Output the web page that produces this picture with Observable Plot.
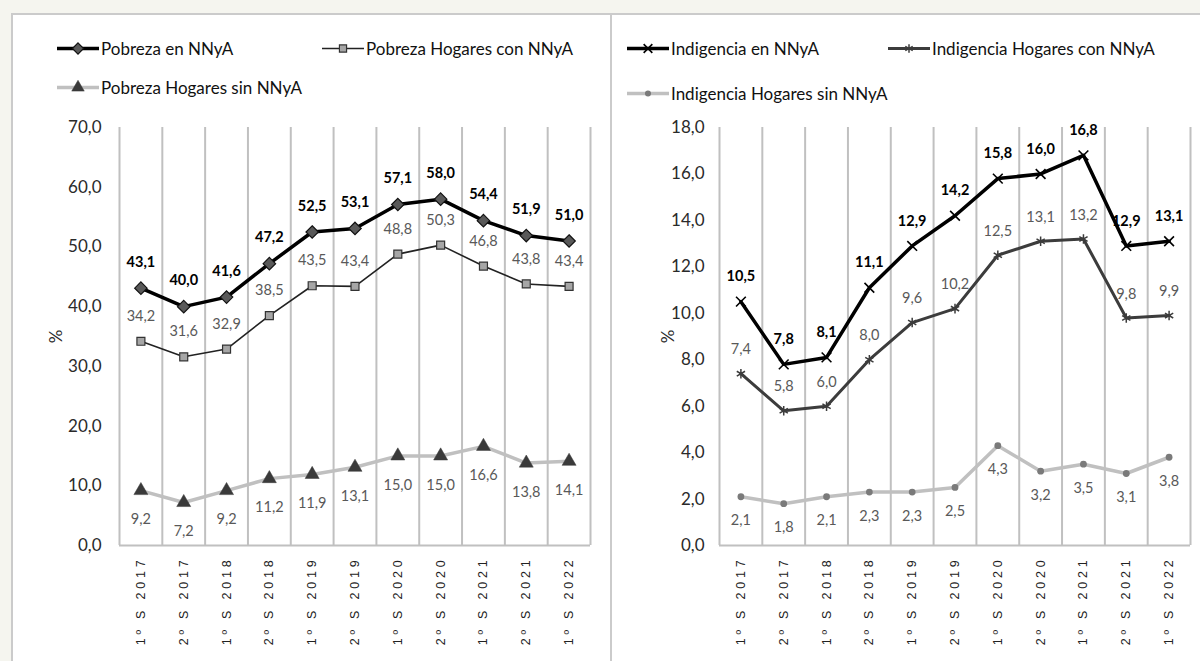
<!DOCTYPE html>
<html>
<head>
<meta charset="utf-8">
<script src="https://cdn.jsdelivr.net/npm/d3@7"></script>
<script src="https://cdn.jsdelivr.net/npm/@observablehq/plot@0.6"></script>
<style>
  body { margin: 0; width: 1200px; height: 661px; background: #f5f5ef; position: relative; overflow: hidden; font-family: Lato, sans-serif; }
  #frame { position: absolute; left: 11px; top: 13px; width: 1200px; height: 660px; background: #fff; border-left: 2px solid #cbcbcb; border-top: 2px solid #cbcbcb; }
  #divider { position: absolute; left: 610px; top: 13px; width: 2px; height: 660px; background: #cbcbcb; }
  .panel { position: absolute; top: 110px; }
  .legend-item { position: absolute; display: flex; align-items: center; font-size: 17px; color: #111; white-space: nowrap; transform: translateY(-50%); }
  .legend-item svg { display: block; margin-right: 1px; }
  .panel svg g[aria-label^="x-axis"] text { font-family: "Liberation Sans", Arial, sans-serif; font-size: 12.5px; letter-spacing: 3.8px; fill: #222; }
</style>
</head>
<body>
<div id="frame"></div>
<div id="divider"></div>
<div id="left" class="panel" style="left:0px"></div>
<div id="right" class="panel" style="left:611px"></div>
<script>
// ---- Data ----
const categories = ["1º S 2017","2º S 2017","1º S 2018","2º S 2018","1º S 2019","2º S 2019","1º S 2020","2º S 2020","1º S 2021","2º S 2021","1º S 2022"];

const pobrezaNNyA        = [43.1, 40.0, 41.6, 47.2, 52.5, 53.1, 57.1, 58.0, 54.4, 51.9, 51.0];
const pobrezaHogaresCon  = [34.2, 31.6, 32.9, 38.5, 43.5, 43.4, 48.8, 50.3, 46.8, 43.8, 43.4];
const pobrezaHogaresSin  = [9.2, 7.2, 9.2, 11.2, 11.9, 13.1, 15.0, 15.0, 16.6, 13.8, 14.1];

const indigenciaNNyA       = [10.5, 7.8, 8.1, 11.1, 12.9, 14.2, 15.8, 16.0, 16.8, 12.9, 13.1];
const indigenciaHogaresCon = [7.4, 5.8, 6.0, 8.0, 9.6, 10.2, 12.5, 13.1, 13.2, 9.8, 9.9];
const indigenciaHogaresSin = [2.1, 1.8, 2.1, 2.3, 2.3, 2.5, 4.3, 3.2, 3.5, 3.1, 3.8];

const pobrezaTicks    = [0, 10, 20, 30, 40, 50, 60, 70];
const indigenciaTicks = [0, 2, 4, 6, 8, 10, 12, 14, 16, 18];

const seriesNames = {
  pobrezaNNyA: "Pobreza en NNyA",
  pobrezaHogaresCon: "Pobreza Hogares con NNyA",
  pobrezaHogaresSin: "Pobreza Hogares sin NNyA",
  indigenciaNNyA: "Indigencia en NNyA",
  indigenciaHogaresCon: "Indigencia Hogares con NNyA",
  indigenciaHogaresSin: "Indigencia Hogares sin NNyA"
};

// ---- Styles ----
const fmt = v => v.toFixed(1).replace(".", ",");

const leftSeries = [
  {name: seriesNames.pobrezaHogaresSin, values: pobrezaHogaresSin, stroke: "#c0c0c0", width: 3.5, symbol: "triangle", r: 5.2, fill: "#3a3a3a", mstroke: "#3a3a3a", msw: 0.5, dy: 29, labelFill: "#595959", bold: false},
  {name: seriesNames.pobrezaHogaresCon, values: pobrezaHogaresCon, stroke: "#222", width: 1.6, symbol: "square", r: 4.5, fill: "#a6a6a6", mstroke: "#333", msw: 1.2, dy: -25, labelFill: "#595959", bold: false},
  {name: seriesNames.pobrezaNNyA, values: pobrezaNNyA, stroke: "#000", width: 3.5, symbol: "diamond2", r: 5.6, fill: "#595959", mstroke: "#111", msw: 1.2, dy: -26, labelFill: "#000", bold: true}
];
const rightSeries = [
  {name: seriesNames.indigenciaHogaresSin, values: indigenciaHogaresSin, stroke: "#c0c0c0", width: 3.5, symbol: "circle", r: 3.4, fill: "#7a7a7a", mstroke: "none", msw: 0, dy: 24, labelFill: "#595959", bold: false},
  {name: seriesNames.indigenciaHogaresCon, values: indigenciaHogaresCon, stroke: "#3c3c3c", width: 3, symbol: "asterisk", r: 4.5, fill: "none", mstroke: "#3c3c3c", msw: 1.5, dy: -24, labelFill: "#595959", bold: false},
  {name: seriesNames.indigenciaNNyA, values: indigenciaNNyA, stroke: "#000", width: 3.5, symbol: "times", r: 4.5, fill: "none", mstroke: "#000", msw: 1.6, dy: -25, labelFill: "#000", bold: true}
];

function chart({series, ticks, yMax, width, marginLeft, marginRight, tickPadding, labelOffset}) {
  const idx = d3.range(categories.length);
  const marks = [
    Plot.ruleX(d3.range(categories.length + 1), {x: i => i - 0.5, y1: 0, y2: yMax, stroke: "#c0c0c0", strokeWidth: 2}),
    Plot.ruleY([0], {stroke: "#c0c0c0", strokeWidth: 2})
  ];
  for (const s of series) {
    const data = s.values.map((v, i) => ({i, v}));
    marks.push(Plot.line(data, {x: "i", y: "v", stroke: s.stroke, strokeWidth: s.width}));
  }
  for (const s of series) {
    const data = s.values.map((v, i) => ({i, v}));
    marks.push(Plot.dot(data, {x: "i", y: "v", symbol: s.symbol, r: s.r, fill: s.fill, stroke: s.mstroke, strokeWidth: s.msw}));
    marks.push(Plot.text(data, {x: "i", y: "v", text: d => fmt(d.v), dy: s.dy, fill: s.labelFill, fontWeight: s.bold ? "bold" : "normal", fontSize: 14.5}));
  }
  return Plot.plot({
    width, height: 551,
    marginLeft, marginRight, marginTop: 17, marginBottom: 116,
    style: {fontFamily: "Lato, sans-serif", fontSize: "17px", color: "#2a2a2a", background: "transparent", overflow: "visible"},
    x: {domain: [-0.5, categories.length - 0.5], ticks: idx, tickFormat: i => categories[i], tickRotate: -90, tickSize: 0, tickPadding: 11, label: null},
    y: {domain: [0, yMax], ticks, tickFormat: fmt, tickSize: 0, tickPadding, label: "%", labelAnchor: "center", labelOffset, labelArrow: false},
    marks
  });
}

document.getElementById("left").appendChild(chart({series: leftSeries, ticks: pobrezaTicks, yMax: 70, width: 611, marginLeft: 119, marginRight: 21, tickPadding: 18, labelOffset: 70}));
document.getElementById("right").appendChild(chart({series: rightSeries, ticks: indigenciaTicks, yMax: 18, width: 589, marginLeft: 108, marginRight: 10, tickPadding: 15, labelOffset: 58}));

// ---- Legends ----
function legendItem(s, left, top) {
  const div = document.createElement("div");
  div.className = "legend-item";
  div.style.left = left + "px";
  div.style.top = top + "px";
  const svg = d3.create("svg").attr("width", 44).attr("height", 18);
  svg.append("line").attr("x1", 1).attr("x2", 43).attr("y1", 9).attr("y2", 9).attr("stroke", s.stroke).attr("stroke-width", s.width);
  const symMap = {triangle: d3.symbolTriangle, square: d3.symbolSquare, diamond2: d3.symbolDiamond2, circle: d3.symbolCircle, asterisk: d3.symbolAsterisk, times: d3.symbolTimes};
  svg.append("path").attr("transform", "translate(22,9)")
    .attr("d", d3.symbol(symMap[s.symbol], Math.PI * s.r * s.r * 0.8)())
    .attr("fill", s.fill).attr("stroke", s.mstroke).attr("stroke-width", s.msw);
  div.appendChild(svg.node());
  const span = document.createElement("span");
  span.textContent = s.name;
  div.appendChild(span);
  document.body.appendChild(div);
}
legendItem(leftSeries[2], 56, 48);
legendItem(leftSeries[1], 321, 48);
legendItem(leftSeries[0], 56, 87);
legendItem(rightSeries[2], 626, 48);
legendItem(rightSeries[1], 887, 48);
legendItem(rightSeries[0], 626, 93);
</script>
</body>
</html>
